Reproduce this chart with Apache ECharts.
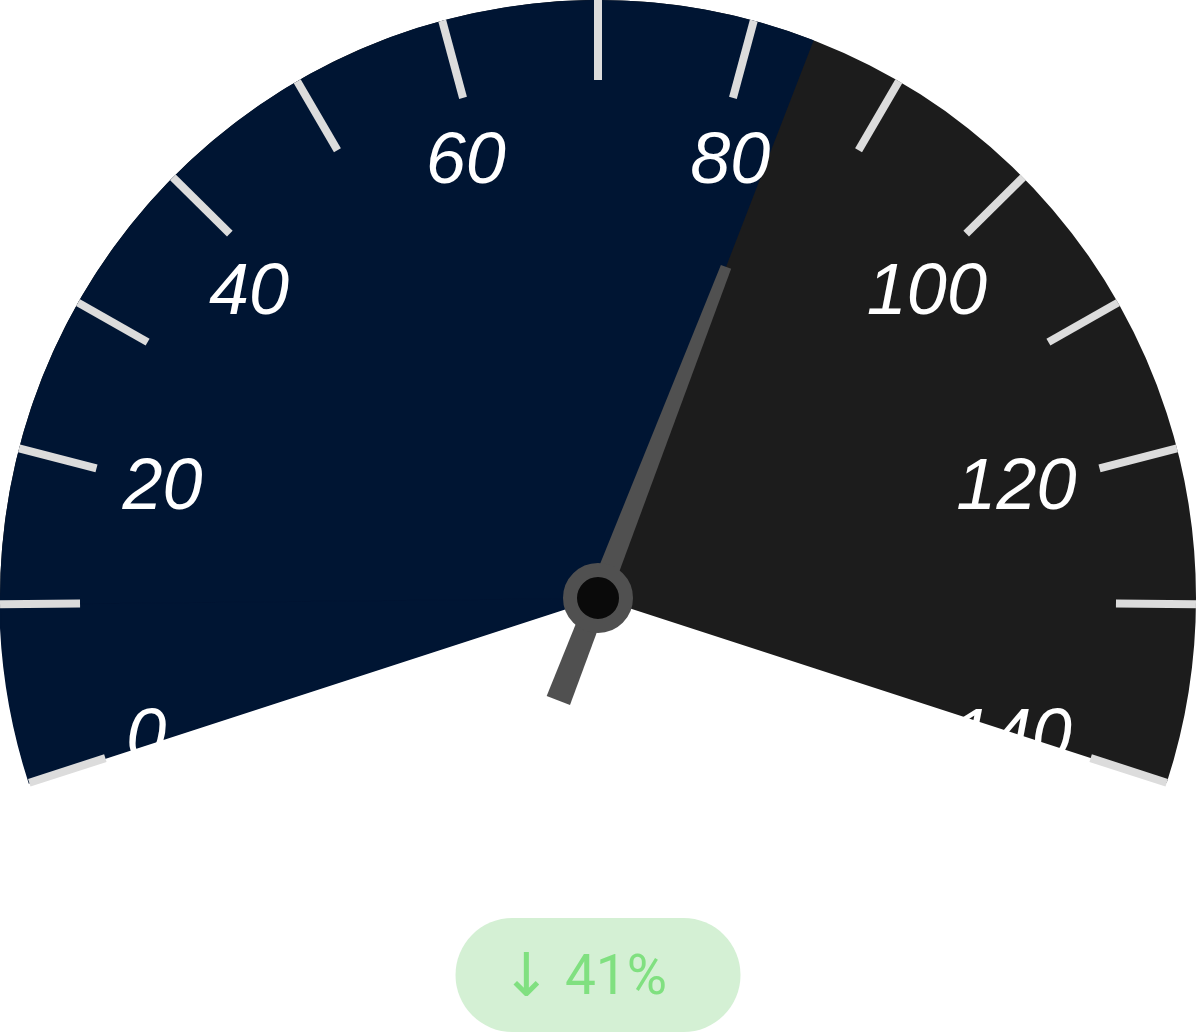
<!DOCTYPE html>
<html>
<head>
<meta charset="utf-8">
<script src="https://cdn.jsdelivr.net/npm/echarts@6/dist/echarts.min.js"></script>
<style>
html,body{margin:0;padding:0;background:#fff;}
#chart{width:1200px;height:1034px;}
</style>
</head>
<body>
<div id="chart"></div>
<script>
// ---- data ----
const gaugeValue = [84];
const fullRange = [0, 140];      // whole dial
const lowRange = [0, 10];        // first (wider) segment
const midRange = [10, 130];      // evenly spaced main scale
const highRange = [130, 140];    // last (wider) segment
const labelValues = [0, 20, 40, 60, 80, 100, 120, 140];
const changeArrow = ['↓'];
const changePercent = ['41%'];

const chart = echarts.init(document.getElementById('chart'));
const R = 598;
const CENTER = [598, 598];
const A_START = 198, A_LOW = 180.6, A_HIGH = -0.6, A_END = -18;
const NAVY = '#001533';
const GREY = '#1c1c1c';
const labelFont = { color: '#ffffff', fontSize: 72, fontStyle: 'italic', fontFamily: 'Arial, "Liberation Sans", sans-serif', lineHeight: 72 };
// per-label padding offsets [top, right, bottom, left]
const labelPads = {
  l0: [0, 0, 50, 40],
  l20: [58, 0, 0, 57],
  l40: [166, 0, 0, 2],
  l60: [119, 0, 0, 22],
  l80: [119, 22, 0, 0],
  l100: [166, 2, 0, 0],
  l120: [58, 54, 0, 0],
  l140: [0, 38, 50, 0]
};
const rich = {};
Object.keys(labelPads).forEach(function (k) {
  rich[k] = Object.assign({ padding: labelPads[k] }, labelFont);
});
function labelFormatter(v) {
  const k = Math.round(v);
  return labelValues.indexOf(k) >= 0 ? '{l' + k + '|' + k + '}' : '';
}
function clampTo(range, v) {
  return Math.min(Math.max(v, range[0]), range[1]);
}

const hidden = {
  pointer: { show: false },
  anchor: { show: false },
  title: { show: false },
  detail: { show: false },
  axisTick: { show: false }
};

function fillSeries(startAngle, endAngle, range, seamBorder) {
  const style = { color: NAVY };
  if (seamBorder) { style.borderColor = NAVY; style.borderWidth = 1.5; }
  return Object.assign({
    type: 'gauge', z: 2, center: CENTER, radius: R,
    startAngle: startAngle, endAngle: endAngle,
    min: range[0], max: range[1],
    axisLine: { show: false, lineStyle: { width: R } },
    progress: { show: true, width: R, roundCap: false, itemStyle: style },
    splitLine: { show: false },
    axisLabel: { show: false },
    data: [{ value: clampTo(range, gaugeValue[0]) }]
  }, hidden);
}

chart.setOption({
  backgroundColor: '#ffffff',
  animation: false,
  series: [
    // dial background
    Object.assign({
      type: 'gauge', z: 1, center: CENTER, radius: R,
      startAngle: A_START, endAngle: A_END,
      min: fullRange[0], max: fullRange[1],
      axisLine: { show: true, roundCap: false, lineStyle: { width: R, color: [[1, GREY]] } },
      progress: { show: false },
      splitLine: { show: false },
      axisLabel: { show: false },
      data: []
    }, hidden),
    // filled part up to the value
    fillSeries(A_START, A_LOW, lowRange, true),
    fillSeries(A_LOW, A_HIGH, midRange, false),
    fillSeries(A_HIGH, A_END, highRange, false),
    // main scale: ticks, labels, needle, badge
    {
      type: 'gauge', z: 4, center: CENTER, radius: R,
      startAngle: A_LOW, endAngle: A_HIGH,
      min: midRange[0], max: midRange[1],
      splitNumber: 12,
      axisLine: { show: false, lineStyle: { width: R } },
      progress: { show: false },
      splitLine: { show: true, distance: -R, length: 80, lineStyle: { color: '#dcdcdc', width: 8, cap: 'butt' } },
      axisTick: { show: false },
      axisLabel: Object.assign({ show: true, distance: 566, rich: rich, formatter: labelFormatter }, labelFont),
      pointer: {
        show: true,
        icon: 'path://M7,0L18,0L25,465L0,465Z',
        length: 465,
        width: 25,
        offsetCenter: [0, 110],
        itemStyle: { color: '#505050' }
      },
      anchor: {
        show: true,
        showAbove: true,
        size: 56,
        itemStyle: { color: '#0a0a0a', borderColor: '#505050', borderWidth: 14 }
      },
      title: { show: false },
      detail: {
        show: true,
        valueAnimation: false,
        offsetCenter: [0, 377],
        formatter: function () { return '{a|' + changeArrow[0] + '} {b|' + changePercent[0] + '}'; },
        width: 285,
        height: 114,
        lineHeight: 114,
        padding: 0,
        borderRadius: 57,
        backgroundColor: '#d4f0d4',
        color: '#80e080',
        fontSize: 55,
        fontWeight: 'normal',
        fontFamily: 'Roboto, sans-serif',
        rich: {
          a: { fontSize: 60, fontWeight: 'normal', color: '#80e080', fontFamily: '"DejaVu Sans", sans-serif', padding: [10, 0, 0, 0] },
          b: { fontSize: 55, fontWeight: 'normal', color: '#80e080', fontFamily: 'Roboto, sans-serif', padding: [10, 28, 0, 0] }
        }
      },
      data: [{ value: gaugeValue[0] }]
    },
    // end ticks and labels (0 and 140)
    Object.assign({
      type: 'gauge', z: 3, center: CENTER, radius: R,
      startAngle: A_START, endAngle: A_END,
      min: fullRange[0], max: fullRange[1],
      splitNumber: 1,
      axisLine: { show: false, lineStyle: { width: R } },
      progress: { show: false },
      splitLine: { show: true, distance: -R, length: 80, lineStyle: { color: '#dcdcdc', width: 8, cap: 'butt' } },
      axisLabel: Object.assign({ show: true, distance: 578, rich: rich, formatter: labelFormatter }, labelFont),
      data: []
    }, hidden)
  ]
});
</script>
</body>
</html>
